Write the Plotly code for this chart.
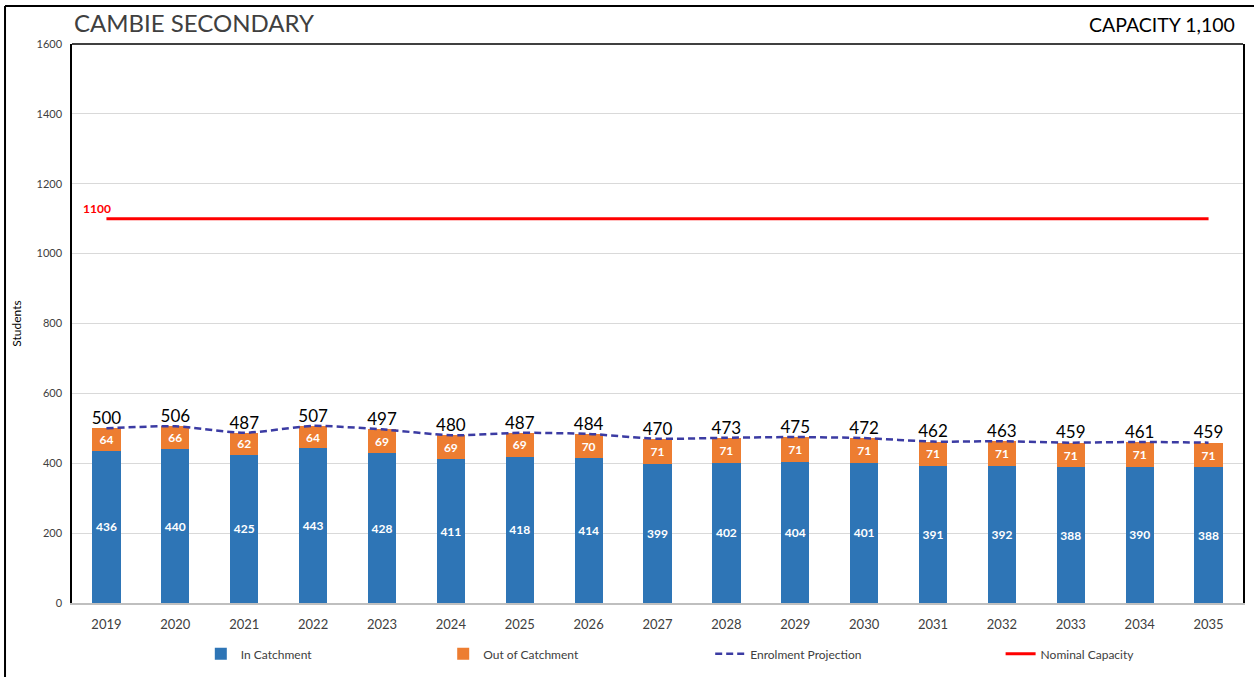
import plotly.graph_objects as go

# values
years = [str(y) for y in range(2019, 2036)]
in_catchment = [436, 440, 425, 443, 428, 411, 418, 414, 399, 402, 404, 401, 391, 392, 388, 390, 388]
out_catchment = [64, 66, 62, 64, 69, 69, 69, 70, 71, 71, 71, 71, 71, 71, 71, 71, 71]
projection = [500, 506, 487, 507, 497, 480, 487, 484, 470, 473, 475, 472, 462, 463, 459, 461, 459]
capacity = 1100
y_ticks = [0, 200, 400, 600, 800, 1000, 1200, 1400, 1600]

FONT = "Lato"

fig = go.Figure()

# stacked bars
fig.add_trace(go.Bar(
    x=years, y=in_catchment, name="In Catchment",
    marker=dict(color="#2E75B6", line=dict(width=0)),
    width=0.41,
    text=in_catchment, textposition="inside", insidetextanchor="middle",
    textangle=0, constraintext="none",
    textfont=dict(family=FONT, size=12, color="white", weight="bold"),
    legend="legend",
))
fig.add_trace(go.Bar(
    x=years, y=out_catchment, name="Out of Catchment",
    marker=dict(color="#ED7D31", line=dict(width=0)),
    width=0.41,
    text=out_catchment, textposition="inside", insidetextanchor="middle",
    textangle=0, constraintext="none",
    textfont=dict(family=FONT, size=12, color="white", weight="bold"),
    legend="legend2",
))

# enrolment projection, dashed and smoothed, with the totals on top
fig.add_trace(go.Scatter(
    x=years, y=projection, name="Enrolment Projection",
    mode="lines+text",
    line=dict(color="#3B3BA3", width=2.5, dash="7px,4px", shape="spline", smoothing=0.6),
    text=projection, textposition="top center",
    textfont=dict(family=FONT, size=17, color="black"),
    legend="legend3",
))

# nominal capacity
fig.add_trace(go.Scatter(
    x=years, y=[capacity] * len(years), name="Nominal Capacity",
    mode="lines",
    line=dict(color="#FF0000", width=3),
    legend="legend4",
))

# capacity label next to the first category (index 0)
fig.add_annotation(
    x=0, y=capacity, text=f"<b>{capacity}</b>", showarrow=False,
    xshift=-9, yshift=10, font=dict(family=FONT, size=12, color="#FF0000"),
)

# titles
fig.add_annotation(
    xref="paper", yref="paper", x=0.0, y=1.0, yshift=5,
    xanchor="left", yanchor="bottom", text="CAMBIE SECONDARY", showarrow=False,
    font=dict(family=FONT, size=24, color="#404040"),
)
fig.add_annotation(
    xref="paper", yref="paper", x=0.995, y=1.0, yshift=6,
    xanchor="right", yanchor="bottom", text="CAPACITY 1,100", showarrow=False,
    font=dict(family=FONT, size=19.5, color="black"),
)

# plot frame (top) and outer border lines
fig.add_shape(type="line", xref="paper", yref="paper", x0=0, x1=1, y0=1, y1=1,
              line=dict(color="black", width=1.5))
fig.add_shape(type="line", xref="paper", yref="paper", x0=-0.0572, x1=-0.0572, y0=1.068, y1=-0.2,
              line=dict(color="black", width=2))
fig.add_shape(type="line", xref="paper", yref="paper", x0=-0.0572, x1=1.02, y0=1.068, y1=1.068,
              line=dict(color="black", width=2))

legend_common = dict(
    orientation="h", yanchor="middle", xanchor="left", y=-0.091,
    font=dict(family=FONT, size=12, color="#404040"), bgcolor="rgba(0,0,0,0)",
)
fig.update_layout(
    width=1254, height=677,
    barmode="stack",
    showlegend=True,
    paper_bgcolor="white", plot_bgcolor="white",
    margin=dict(l=72, r=11, t=44, b=74, autoexpand=False),
    font=dict(family=FONT, color="#595959"),
    legend=dict(x=0.110, **legend_common),
    legend2=dict(x=0.317, **legend_common),
    legend3=dict(x=0.545, **legend_common),
    legend4=dict(x=0.793, **legend_common),
    xaxis=dict(
        type="category", range=[-0.5, len(years) - 0.5], showgrid=False,
        showline=True, linecolor="#BFBFBF", linewidth=1.5,
        ticks="", ticklabelstandoff=9, automargin=False,
        tickfont=dict(family=FONT, size=13, color="#404040"),
    ),
    yaxis=dict(
        range=[0, 1600], tickvals=y_ticks, showgrid=True, gridcolor="#D9D9D9", gridwidth=1,
        showline=True, linecolor="black", linewidth=1.5, mirror=True,
        ticks="", ticklabelstandoff=6, automargin=False,
        tickfont=dict(family=FONT, size=11, color="#404040"),
        title=dict(text="Students", font=dict(family=FONT, size=12, color="black"), standoff=12),
        zeroline=False,
    ),
)

# drop the browser's default body margin so the figure sits at the page corner
fig.write_html("out.html", config={"displayModeBar": False},
               post_script="document.body.style.margin='0';")
